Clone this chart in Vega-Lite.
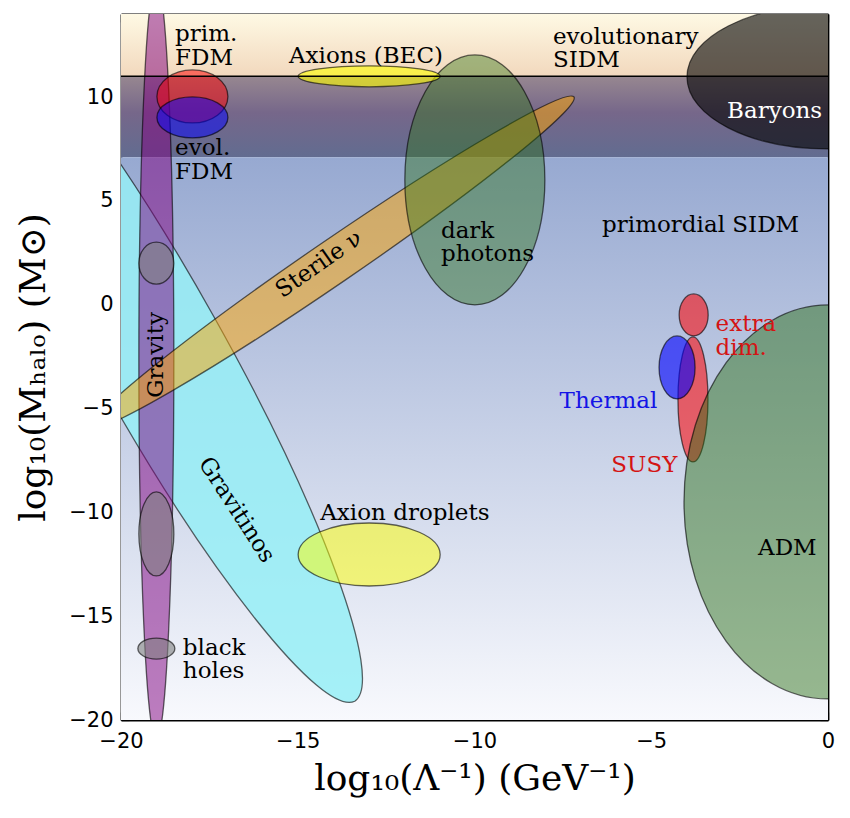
{
  "$schema": "https://vega.github.io/schema/vega-lite/v6.json",
  "width": 707,
  "height": 706,
  "autosize": {"type": "none"},
  "padding": {"left": 121, "top": 14, "right": 22, "bottom": 98},
  "background": "white",
  "config": {
    "view": {"stroke": null},
    "axis": {
      "grid": false,
      "domain": true,
      "domainColor": "black",
      "domainWidth": 1.8,
      "tickSize": -8,
      "tickColor": "black",
      "tickWidth": 1.2,
      "labelFont": "DejaVu Sans",
      "labelFontSize": 21,
      "labelColor": "black",
      "labelFlush": false,
      "labelOverlap": false,
      "titleFont": "DejaVu Serif",
      "titleFontSize": 36,
      "titleFontWeight": "normal",
      "titleColor": "black",
      "zindex": 1
    },
    "text": {"font": "DejaVu Serif", "fontSize": 23, "lineHeight": 23.5}
  },
  "resolve": {"axis": {"x": "independent", "y": "independent"}},
  "layer": [
    {
      "layer": [
        {
          "data": {"values": [{"band": "top", "y": 11, "y2": 14}]},
          "mark": {"type": "rect", "fill": {"gradient": "linear", "x1": 0, "y1": 0, "x2": 0, "y2": 1, "stops": [{"offset": 0, "color": "#fef9e4"}, {"offset": 1, "color": "#f2d8bd"}]}},
          "encoding": {
            "x": {"datum": -20, "type": "quantitative", "scale": {"domain": [-20, 0], "nice": false, "zero": false}, "axis": {"orient": "bottom", "values": [-20, -15, -10, -5, 0], "title": "log₁₀(Λ⁻¹) (GeV⁻¹)", "labelPadding": 18, "titlePadding": 10}},
            "x2": {"datum": 0},
            "y": {"field": "y", "type": "quantitative", "scale": {"domain": [-20, 14], "nice": false, "zero": false}, "axis": {"orient": "left", "values": [-20, -15, -10, -5, 0, 5, 10], "title": "log₁₀(Mₕₐₗₒ) (M⊙)", "labelPadding": 16, "titlePadding": 16}},
            "y2": {"field": "y2"}
          }
        },
        {
          "data": {"values": [{"band": "dark", "y": 7.1, "y2": 11}]},
          "mark": {"type": "rect", "fill": {"gradient": "linear", "x1": 0, "y1": 0, "x2": 0, "y2": 1, "stops": [{"offset": 0, "color": "#978790"}, {"offset": 0.45, "color": "#76678a"}, {"offset": 1, "color": "#626c90"}]}},
          "encoding": {
            "x": {"datum": -20, "type": "quantitative", "scale": {"domain": [-20, 0], "nice": false, "zero": false}},
            "x2": {"datum": 0},
            "y": {"field": "y", "type": "quantitative", "scale": {"domain": [-20, 14], "nice": false, "zero": false}},
            "y2": {"field": "y2"}
          }
        },
        {
          "data": {"values": [{"band": "low", "y": -20, "y2": 7.1}]},
          "mark": {"type": "rect", "fill": {"gradient": "linear", "x1": 0, "y1": 0, "x2": 0, "y2": 1, "stops": [{"offset": 0, "color": "#97a9d1"}, {"offset": 1, "color": "#f8f9fd"}]}},
          "encoding": {
            "x": {"datum": -20, "type": "quantitative", "scale": {"domain": [-20, 0], "nice": false, "zero": false}},
            "x2": {"datum": 0},
            "y": {"field": "y2", "type": "quantitative", "scale": {"domain": [-20, 14], "nice": false, "zero": false}},
            "y2": {"field": "y"}
          }
        },
        {
          "data": {"values": [
            {"name": "Gravitinos", "x": -18.98, "y": -2.13},
            {"name": "Gravity", "x": -19.0, "y": -2.66},
            {"name": "Sterile", "x": -14.0, "y": 2.06},
            {"name": "dark photons", "x": -9.99, "y": 6.01},
            {"name": "Axions (BEC)", "x": -12.98, "y": 11.0},
            {"name": "prim. FDM", "x": -17.98, "y": 10.03},
            {"name": "evol. FDM", "x": -17.98, "y": 9.02},
            {"name": "Baryons", "x": 0.0, "y": 10.97},
            {"name": "gravity 1", "x": -19.0, "y": 2.0},
            {"name": "gravity 2", "x": -19.0, "y": -11.04},
            {"name": "black holes", "x": -19.0, "y": -16.56},
            {"name": "SUSY", "x": -3.82, "y": -4.56},
            {"name": "extra dim.", "x": -3.8, "y": -0.49},
            {"name": "Thermal", "x": -4.27, "y": -3.02},
            {"name": "Axion droplets", "x": -12.98, "y": -12.03},
            {"name": "ADM", "x": 0.0, "y": -9.5}
          ]},
          "mark": {"type": "point", "filled": true, "opacity": 1, "clip": true, "stroke": "rgba(0,0,0,0.6)", "strokeWidth": 1.3},
          "encoding": {
            "x": {"field": "x", "type": "quantitative", "scale": {"domain": [-20, 0], "nice": false, "zero": false}},
            "y": {"field": "y", "type": "quantitative", "scale": {"domain": [-20, 14], "nice": false, "zero": false}},
            "size": {"value": 4},
            "shape": {
              "field": "name", "type": "nominal", "legend": null,
              "scale": {
                "domain": ["Gravitinos", "Gravity", "Sterile", "dark photons", "Axions (BEC)", "prim. FDM", "evol. FDM", "Baryons", "gravity 1", "gravity 2", "black holes", "SUSY", "extra dim.", "Thermal", "Axion droplets", "ADM"],
                "range": [
                  "M -197.7 -352.3 A 404 66 60.7 0 1 197.7 352.3 A 404 66 60.7 0 1 -197.7 -352.3 Z",
                  "M -17.5 0 A 17.5 380 0 0 1 17.5 0 A 17.5 380 0 0 1 -17.5 0 Z",
                  "M -240.9 165 A 292 22 -34.4 0 1 240.9 -165 A 292 22 -34.4 0 1 -240.9 165 Z",
                  "M -70 0 A 70 125 0 0 1 70 0 A 70 125 0 0 1 -70 0 Z",
                  "M -71 0 A 71 10.5 0 0 1 71 0 A 71 10.5 0 0 1 -71 0 Z",
                  "M -35.5 0 A 35.5 26.5 0 0 1 35.5 0 A 35.5 26.5 0 0 1 -35.5 0 Z",
                  "M -35.5 0 A 35.5 20.5 0 0 1 35.5 0 A 35.5 20.5 0 0 1 -35.5 0 Z",
                  "M -141 0 A 141 72 0 0 1 141 0 A 141 72 0 0 1 -141 0 Z",
                  "M -17.5 0 A 17.5 21 0 0 1 17.5 0 A 17.5 21 0 0 1 -17.5 0 Z",
                  "M -17.5 0 A 17.5 42 0 0 1 17.5 0 A 17.5 42 0 0 1 -17.5 0 Z",
                  "M -18.5 0 A 18.5 10.5 0 0 1 18.5 0 A 18.5 10.5 0 0 1 -18.5 0 Z",
                  "M -15 0 A 15 62.5 0 0 1 15 0 A 15 62.5 0 0 1 -15 0 Z",
                  "M -14.5 0 A 14.5 21 0 0 1 14.5 0 A 14.5 21 0 0 1 -14.5 0 Z",
                  "M -18 0 A 18 31.5 0 0 1 18 0 A 18 31.5 0 0 1 -18 0 Z",
                  "M -71 0 A 71 31.5 0 0 1 71 0 A 71 31.5 0 0 1 -71 0 Z",
                  "M -144 0 A 144 197 0 0 1 144 0 A 144 197 0 0 1 -144 0 Z"
                ]
              }
            },
            "fill": {
              "field": "name", "type": "nominal", "legend": null,
              "scale": {
                "domain": ["Gravitinos", "Gravity", "Sterile", "dark photons", "Axions (BEC)", "prim. FDM", "evol. FDM", "Baryons", "gravity 1", "gravity 2", "black holes", "SUSY", "extra dim.", "Thermal", "Axion droplets", "ADM"],
                "range": ["rgba(150,238,246,0.85)", "rgba(128,0,128,0.5)", "rgba(255,165,0,0.5)", "rgba(45,115,20,0.42)", "rgba(255,255,0,0.6)", "rgba(255,0,0,0.5)", "rgba(0,0,255,0.5)", "rgba(0,0,0,0.6)", "rgba(128,128,128,0.6)", "rgba(128,128,128,0.6)", "rgba(128,128,128,0.6)", "rgba(255,0,0,0.55)", "rgba(255,0,0,0.55)", "rgba(0,0,255,0.6)", "rgba(255,255,0,0.5)", "rgba(40,110,15,0.46)"]
              }
            }
          }
        },
        {
          "data": {"values": [{"y": 11}]},
          "mark": {"type": "rule", "color": "black", "strokeWidth": 1.6},
          "encoding": {
            "y": {"field": "y", "type": "quantitative", "scale": {"domain": [-20, 14], "nice": false, "zero": false}}
          }
        },
        {
          "data": {"values": [
            {"label": "prim.\nFDM", "x": -18.47, "y": 13.02},
            {"label": "evolutionary\nSIDM", "x": -7.78, "y": 12.91},
            {"label": "evol.\nFDM", "x": -18.47, "y": 7.53},
            {"label": "dark\nphotons", "x": -10.95, "y": 3.56},
            {"label": "primordial SIDM", "x": -6.39, "y": 3.84},
            {"label": "black\nholes", "x": -18.25, "y": -16.52}
          ]},
          "mark": {"type": "text", "align": "left", "baseline": "middle", "lineBreak": "\n", "color": "black"},
          "encoding": {
            "x": {"field": "x", "type": "quantitative", "scale": {"domain": [-20, 0], "nice": false, "zero": false}},
            "y": {"field": "y", "type": "quantitative", "scale": {"domain": [-20, 14], "nice": false, "zero": false}},
            "text": {"field": "label"}
          }
        },
        {
          "data": {"values": [
            {"label": "Axions (BEC)", "x": -13.07, "y": 11.97},
            {"label": "Axion droplets", "x": -11.97, "y": -10.03},
            {"label": "ADM", "x": -1.15, "y": -11.71}
          ]},
          "mark": {"type": "text", "align": "center", "baseline": "middle", "color": "black"},
          "encoding": {
            "x": {"field": "x", "type": "quantitative", "scale": {"domain": [-20, 0], "nice": false, "zero": false}},
            "y": {"field": "y", "type": "quantitative", "scale": {"domain": [-20, 14], "nice": false, "zero": false}},
            "text": {"field": "label"}
          }
        },
        {
          "data": {"values": [{"label": "Baryons", "x": -1.51, "y": 9.32}]},
          "mark": {"type": "text", "align": "center", "baseline": "middle", "color": "white"},
          "encoding": {
            "x": {"field": "x", "type": "quantitative", "scale": {"domain": [-20, 0], "nice": false, "zero": false}},
            "y": {"field": "y", "type": "quantitative", "scale": {"domain": [-20, 14], "nice": false, "zero": false}},
            "text": {"field": "label"}
          }
        },
        {
          "data": {"values": [{"label": "extra\ndim.", "x": -3.18, "y": -0.94}]},
          "mark": {"type": "text", "align": "left", "baseline": "middle", "lineBreak": "\n", "color": "#d41414"},
          "encoding": {
            "x": {"field": "x", "type": "quantitative", "scale": {"domain": [-20, 0], "nice": false, "zero": false}},
            "y": {"field": "y", "type": "quantitative", "scale": {"domain": [-20, 14], "nice": false, "zero": false}},
            "text": {"field": "label"}
          }
        },
        {
          "data": {"values": [{"label": "SUSY", "x": -4.26, "y": -7.7}]},
          "mark": {"type": "text", "align": "right", "baseline": "middle", "color": "#d41414"},
          "encoding": {
            "x": {"field": "x", "type": "quantitative", "scale": {"domain": [-20, 0], "nice": false, "zero": false}},
            "y": {"field": "y", "type": "quantitative", "scale": {"domain": [-20, 14], "nice": false, "zero": false}},
            "text": {"field": "label"}
          }
        },
        {
          "data": {"values": [{"label": "Thermal", "x": -4.83, "y": -4.65}]},
          "mark": {"type": "text", "align": "right", "baseline": "middle", "color": "#1414e6"},
          "encoding": {
            "x": {"field": "x", "type": "quantitative", "scale": {"domain": [-20, 0], "nice": false, "zero": false}},
            "y": {"field": "y", "type": "quantitative", "scale": {"domain": [-20, 14], "nice": false, "zero": false}},
            "text": {"field": "label"}
          }
        },
        {
          "data": {"values": [{"label": "Sterile ν", "x": -14.4, "y": 1.95}]},
          "mark": {"type": "text", "align": "center", "baseline": "middle", "angle": 325, "color": "black"},
          "encoding": {
            "x": {"field": "x", "type": "quantitative", "scale": {"domain": [-20, 0], "nice": false, "zero": false}},
            "y": {"field": "y", "type": "quantitative", "scale": {"domain": [-20, 14], "nice": false, "zero": false}},
            "text": {"field": "label"}
          }
        },
        {
          "data": {"values": [{"label": "Gravity", "x": -19.0, "y": -2.42}]},
          "mark": {"type": "text", "align": "center", "baseline": "middle", "angle": 270, "color": "black"},
          "encoding": {
            "x": {"field": "x", "type": "quantitative", "scale": {"domain": [-20, 0], "nice": false, "zero": false}},
            "y": {"field": "y", "type": "quantitative", "scale": {"domain": [-20, 14], "nice": false, "zero": false}},
            "text": {"field": "label"}
          }
        },
        {
          "data": {"values": [{"label": "Gravitinos", "x": -16.73, "y": -9.88}]},
          "mark": {"type": "text", "align": "center", "baseline": "middle", "angle": 57, "color": "black"},
          "encoding": {
            "x": {"field": "x", "type": "quantitative", "scale": {"domain": [-20, 0], "nice": false, "zero": false}},
            "y": {"field": "y", "type": "quantitative", "scale": {"domain": [-20, 14], "nice": false, "zero": false}},
            "text": {"field": "label"}
          }
        }
      ]
    },
    {
      "data": {"values": [{"x": -20, "y": -20}, {"x": 0, "y": 14}]},
      "mark": {"type": "point", "opacity": 0},
      "encoding": {
        "x": {"field": "x", "type": "quantitative", "scale": {"domain": [-20, 0], "nice": false, "zero": false}, "axis": {"orient": "top", "values": [-20, -15, -10, -5, 0], "labels": false, "title": null}},
        "y": {"field": "y", "type": "quantitative", "scale": {"domain": [-20, 14], "nice": false, "zero": false}, "axis": {"orient": "right", "values": [-20, -15, -10, -5, 0, 5, 10], "labels": false, "title": null}}
      }
    }
  ]
}
